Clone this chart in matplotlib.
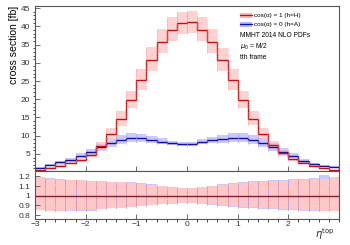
import numpy as np
import matplotlib
matplotlib.use('Agg')
import matplotlib.pyplot as plt
from matplotlib.patches import Rectangle

plt.rcParams['font.family'] = ['Liberation Sans', 'DejaVu Sans']

# eta_top binning
edges = np.linspace(-3.0, 3.0, 31)

# central cross sections per bin [fb]
xs_H = [0.6, 1.1, 1.8, 2.5, 3.3, 4.8, 7.3, 10.5, 14.6, 19.8,
        25.2, 30.8, 35.8, 39.0, 40.9, 41.1, 39.0, 35.8, 30.8, 25.2,
        19.8, 14.7, 10.5, 7.5, 5.2, 3.6, 2.5, 1.6, 1.0, 0.6]
xs_A = [1.2, 1.9, 2.7, 3.4, 4.5, 5.5, 6.8, 8.0, 8.9, 9.4,
        9.3, 8.9, 8.4, 7.95, 7.8, 7.8, 8.3, 8.7, 9.1, 9.4,
        9.4, 8.9, 8.0, 6.8, 5.6, 4.4, 3.1, 2.2, 1.6, 1.3]

# scale uncertainty bands, relative to central value
H_up = [1.19, 1.17, 1.165, 1.16, 1.16, 1.155, 1.15, 1.145, 1.14, 1.13,
        1.125, 1.115, 1.10, 1.09, 1.075, 1.075, 1.09, 1.10, 1.11, 1.12,
        1.13, 1.14, 1.145, 1.15, 1.155, 1.16, 1.165, 1.17, 1.175, 1.19]
H_dn = [0.85, 0.84, 0.845, 0.85, 0.855, 0.86, 0.865, 0.87, 0.875, 0.885,
        0.89, 0.90, 0.91, 0.92, 0.93, 0.93, 0.92, 0.91, 0.90, 0.89,
        0.885, 0.88, 0.875, 0.87, 0.865, 0.86, 0.855, 0.85, 0.845, 0.84]
A_up = [1.19, 1.18, 1.175, 1.16, 1.16, 1.155, 1.15, 1.145, 1.14, 1.14,
        1.135, 1.125, 1.10, 1.09, 1.075, 1.075, 1.09, 1.10, 1.12, 1.13,
        1.14, 1.15, 1.155, 1.16, 1.165, 1.17, 1.175, 1.18, 1.21, 1.19]
A_dn = [0.85, 0.84, 0.845, 0.84, 0.84, 0.845, 0.86, 0.87, 0.875, 0.885,
        0.89, 0.90, 0.91, 0.92, 0.93, 0.93, 0.92, 0.905, 0.89, 0.88,
        0.875, 0.87, 0.865, 0.86, 0.855, 0.85, 0.845, 0.84, 0.845, 0.84]

labels = ['cos(\u03b1) = 1 (h=H)', 'cos(\u03b1) = 0 (h=A)']
notes = ['MMHT 2014 NLO PDFs', r'$\mu_0$ = M/2', 'tth frame']

RED = '#c01010'
BLUE = '#10109a'
PINK = '#ffb4b4'
LBLUE = '#b4b4ff'
GRID = '#555555'


def band(ax, lo, hi, fill, alpha, dot):
    """Draw an error band as per-bin boxes with dotted bin edges"""
    ax.stairs(hi, edges, baseline=lo, fill=True, color=fill, alpha=alpha, lw=0)
    ax.vlines(edges[:-1], lo, hi, colors=dot, linestyles=':', lw=0.5)
    ax.vlines(edges[1:], lo, hi, colors=dot, linestyles=':', lw=0.5)


def style(ax):
    for s in ax.spines.values():
        s.set_color(GRID)
        s.set_linewidth(0.8)
    ax.tick_params(axis='both', direction='in', colors=GRID, labelcolor='#333333',
                   labelsize=6, width=0.6, top=False, right=False)
    ax.tick_params(which='major', length=3.5)
    ax.tick_params(which='minor', length=1.8, width=0.5)
    ax.set_xlim(-3, 3)
    ax.set_xticks(np.arange(-3, 3, 1))
    ax.set_xticks(edges, minor=True)


fig = plt.figure(figsize=(3.5, 2.45), dpi=100)
ax = fig.add_axes([0.1, 0.302, 0.8686, 0.6735])
rx = fig.add_axes([0.1, 0.106, 0.8686, 0.196])

xs_H_a = np.array(xs_H)
xs_A_a = np.array(xs_A)

# main panel
band(ax, xs_A_a * np.array(A_dn), xs_A_a * np.array(A_up), LBLUE, 0.7, '#9090ff')
band(ax, xs_H_a * np.array(H_dn), xs_H_a * np.array(H_up), PINK, 0.6, '#ff8080')
ax.stairs(xs_A, edges, color=BLUE, lw=1.0)
ax.stairs(xs_H, edges, color=RED, lw=1.0)
style(ax)
ax.set_ylim(0.3, 45.6)
ax.set_yticks(np.arange(5, 46, 5))
ax.set_yticks(np.arange(1, 46, 1), minor=True)
ax.tick_params(labelbottom=False)
ax.set_ylabel('cross section [fb]', fontsize=7.5, loc='top', labelpad=1)

# legend drawn by hand, ROOT style
tr = ax.transAxes
for y, lab, fcol, lcol in [(0.944, labels[0], PINK, RED),
                           (0.889, labels[1], LBLUE, BLUE)]:
    ax.add_patch(Rectangle((0.674, y - 0.014), 0.04, 0.028, transform=tr,
                           facecolor=fcol, edgecolor='none'))
    ax.plot([0.674, 0.714], [y, y], color=lcol, lw=0.9, transform=tr)
    ax.text(0.722, y, lab, transform=tr, fontsize=4.6, va='center')
for y, txt in zip([0.824, 0.753, 0.689], notes):
    ax.text(0.674, y, txt, transform=tr, fontsize=4.8, va='center')

# ratio panel
band(rx, A_dn, A_up, LBLUE, 0.7, '#9090ff')
band(rx, H_dn, H_up, '#ffc8c8', 1.0, '#ff8a8a')
rx.axhline(1.0, color='#7a2030', lw=1.0)
style(rx)
rx.set_ylim(0.76, 1.255)
rx.set_yticks([0.8, 0.9, 1.0, 1.1, 1.2])
rx.set_yticklabels(['0.8', '0.9', '1', '1.1', '1.2'])
rx.set_xticklabels(['\u22123', '\u22122', '\u22121', '0', '1', '2'])
rx.tick_params(axis='x', pad=1.5)
fig.text(0.955, 0.03, r'$\eta^{\rm top}$', fontsize=7, ha='right', color='#222222')

fig.savefig('out.png', dpi=100)
